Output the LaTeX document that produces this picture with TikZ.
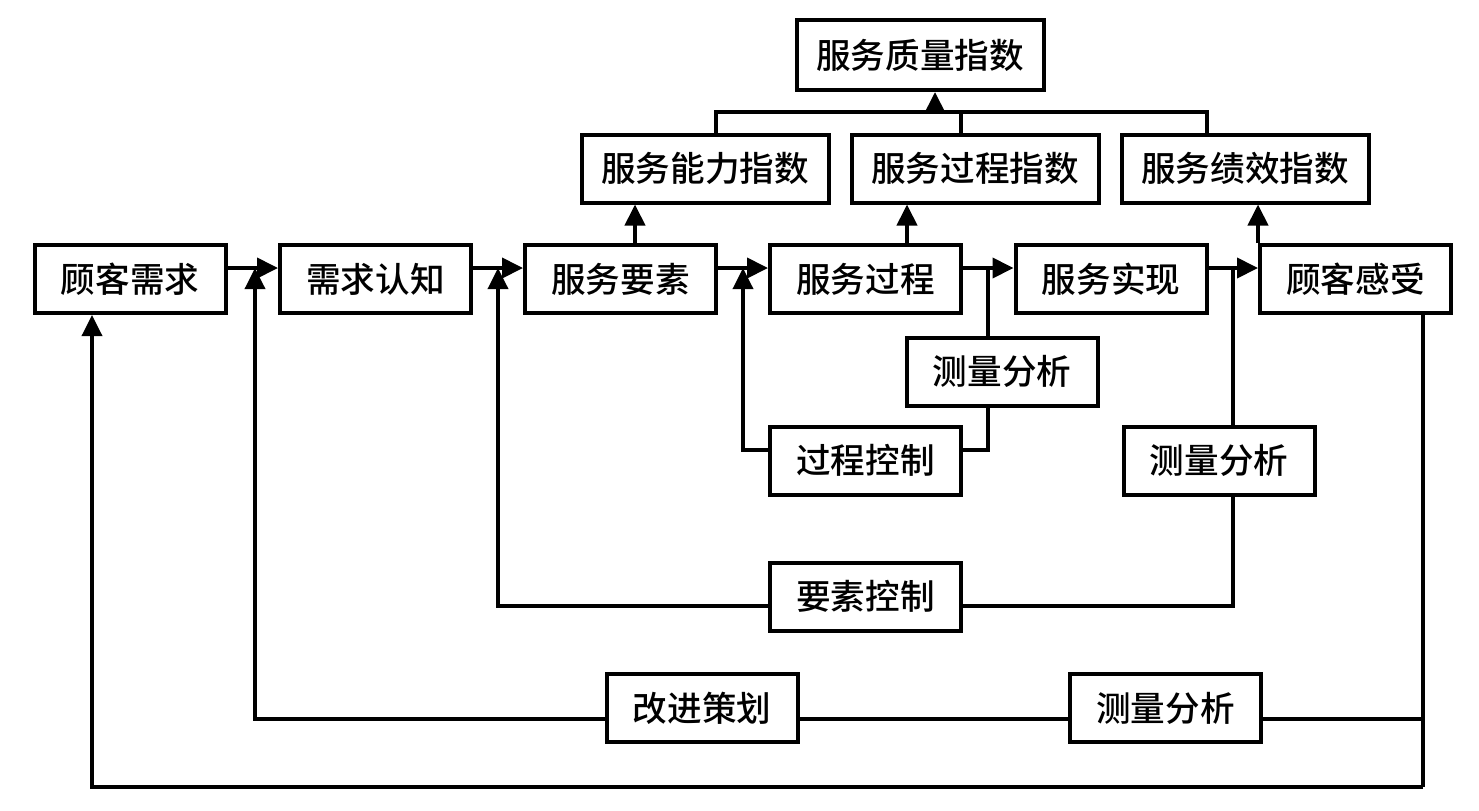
\documentclass[tikz,border=0pt]{standalone}
\usepackage{fontspec}
\newfontfamily\cjk{Noto Sans CJK SC Medium}
\usetikzlibrary{arrows.meta,calc}
\begin{document}
\begin{tikzpicture}[x=0.5pt,y=-0.5pt,
  box/.style={draw,line width=2pt,minimum width=95.5pt,minimum height=34pt,inner sep=0pt,
    font=\cjk\fontsize{17.3}{20}\selectfont},
  wide/.style={minimum width=123.5pt},
  ln/.style={line width=1.8pt},
  arr/.style={line width=2pt,-{Triangle[length=10.5pt,width=10pt]}},
  farr/.style={line width=1.8pt,-{Triangle[length=10.5pt,width=10pt]}}]
\useasboundingbox (0,0) rectangle (1479,810);
% index boxes
\node[box,wide,minimum height=35pt] (q) at (920,55) {服务质量指数};
\node[box,wide] (c1) at (705,168.5) {服务能力指数};
\node[box,wide] (c2) at (975,168.5) {服务过程指数};
\node[box,wide] (c3) at (1245,168.5) {服务绩效指数};
% main row
\node[box] (kx) at (130,279) {顾客需求};
\node[box] (xr) at (375.5,279) {需求认知};
\node[box] (ys) at (620.5,279) {服务要素};
\node[box] (gc) at (865.5,279) {服务过程};
\node[box] (sx) at (1111,279) {服务实现};
\node[box] (gs) at (1355.5,279) {顾客感受};
% feedback boxes
\node[box] (m1) at (1002,371.5) {测量分析};
\node[box] (pc) at (865.5,460.5) {过程控制};
\node[box] (m2) at (1219,460.5) {测量分析};
\node[box] (ec) at (865.5,596.5) {要素控制};
\node[box] (gj) at (702,708) {改进策划};
\node[box] (m3) at (1165.5,708) {测量分析};
% helper coordinates
\coordinate (ay) at (0,268);
\coordinate (t) at (0,112);
\coordinate (tl) at (716,0);
\coordinate (tm) at (961,0);
\coordinate (tr) at (1207,0);
\coordinate (ta) at (935,0);
\coordinate (u1) at (635,0);
\coordinate (u2) at (907,0);
\coordinate (f1) at (988,0);
\coordinate (f2) at (1233,0);
\coordinate (f3) at (1423,0);
\coordinate (py) at (0,450);
\coordinate (ey) at (0,606);
\coordinate (iy) at (0,719);
\coordinate (by) at (0,787);
\coordinate (b1) at (743,0);
\coordinate (b2) at (498,0);
\coordinate (b3) at (255,0);
\coordinate (b4) at (92,0);
% top tree
\draw[ln] (c1.north -| tl) -- (tl |- t) -- (tr |- t) -- (c3.north -| tr);
\draw[ln] (c2.north -| tm) -- (tm |- t);
\draw[arr] (ta |- t) -- (q.south -| ta);
% upward to indices
\draw[arr] (ys.north -| u1) -- (c1.south -| u1);
\draw[arr] (gc.north -| u2) -- (c2.south -| u2);
\draw[arr] (gs.north west) -- (c3.south -| gs.west);
% main row arrows
\draw[arr] (kx.east |- ay) -- (xr.west |- ay);
\draw[arr] (xr.east |- ay) -- (ys.west |- ay);
\draw[arr] (ys.east |- ay) -- (gc.west |- ay);
\draw[arr] (gc.east |- ay) -- (sx.west |- ay);
\draw[arr] (sx.east |- ay) -- (gs.west |- ay);
% feedback loop 1
\draw[ln] (f1 |- ay) -- (m1.north -| f1);
\draw[ln] (m1.south -| f1) -- (f1 |- py) -- (pc.east |- py);
\draw[farr] (pc.west |- py) -- (b1 |- py) -- (b1 |- ay);
% feedback loop 2
\draw[ln] (f2 |- ay) -- (m2.north -| f2);
\draw[ln] (m2.south -| f2) -- (f2 |- ey) -- (ec.east |- ey);
\draw[farr] (ec.west |- ey) -- (b2 |- ey) -- (b2 |- ay);
% feedback loop 3
\draw[ln] (gs.south -| f3) -- (f3 |- by);
\draw[ln] (f3 |- iy) -- (m3.east |- iy);
\draw[ln] (m3.west |- iy) -- (gj.east |- iy);
\draw[farr] (gj.west |- iy) -- (b3 |- iy) -- (b3 |- ay);
\draw[farr] (f3 |- by) -- (b4 |- by) -- (kx.south -| b4);
\end{tikzpicture}
\end{document}
